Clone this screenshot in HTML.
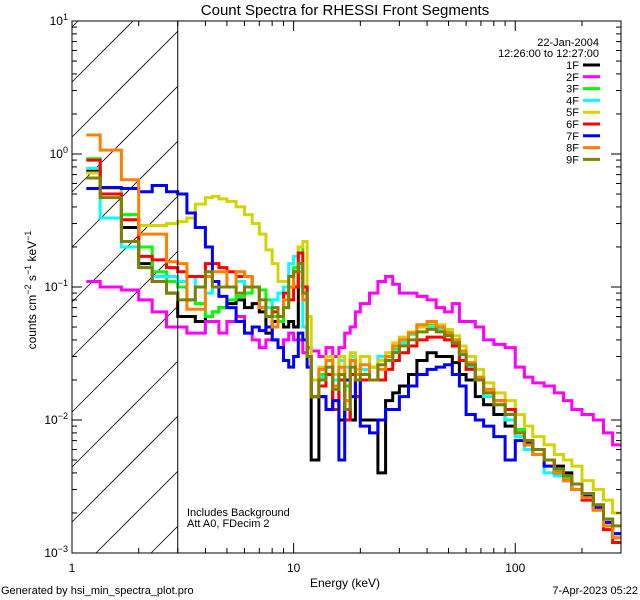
<!DOCTYPE html>
<html><head><meta charset="utf-8"><style>
html,body{margin:0;padding:0;background:#fff;width:640px;height:600px;overflow:hidden;}
svg{display:block;font-family:"Liberation Sans",sans-serif;}
</style></head><body>
<svg id="chart" width="640" height="600" viewBox="0 0 640 600" xmlns="http://www.w3.org/2000/svg">
<rect width="640" height="600" fill="#fff"/>
<text x="345" y="15" font-size="15" text-anchor="middle">Count Spectra for RHESSI Front Segments</text>
<text x="345" y="587" font-size="12" text-anchor="middle">Energy (keV)</text>
<text transform="translate(36,290) rotate(-90)" font-size="12" text-anchor="middle">counts cm<tspan dy="-5" font-size="9">−2</tspan><tspan dy="5"> s</tspan><tspan dy="-5" font-size="9">−1</tspan><tspan dy="5"> keV</tspan><tspan dy="-5" font-size="9">−1</tspan></text>
<text x="1" y="594" font-size="11">Generated by hsi_min_spectra_plot.pro</text>
<text x="638" y="594" font-size="11" text-anchor="end">7-Apr-2023 05:22</text>
<text x="599" y="46" font-size="11" text-anchor="end">22-Jan-2004</text>
<text x="599" y="57" font-size="11" text-anchor="end">12:26:00 to 12:27:00</text>
<text x="187" y="516" font-size="11">Includes Background</text>
<text x="187" y="527" font-size="11">Att A0, FDecim 2</text>
<g id="hatch"></g>
<g id="series"></g>
<g id="axes"></g>
<g id="legend"></g>
</svg>
<script>
const energyEdges=[1.16,1.34,1.67,2.0,2.3,2.67,3.0,3.3,3.6,4.0,4.3,4.6,5.0,5.5,6.0,6.5,7.0,7.5,8.0,8.5,9.0,9.5,10,10.5,11,11.5,12,13,14,15,16,17,18,19,20,22,24,26,28,30,33,36,40,44,48,52,56,60,66,72,80,90,100,110,120,135,150,165,180,200,225,250,275,300];
const seriesNames=["1F","2F","3F","4F","5F","6F","7F","8F","9F"];
const seriesColors=["#000000","#ff00ff","#00ff00","#00ffff","#d4d400","#ff0000","#0000ff","#ff8000","#808000"];
const s1F=[0.75,0.55,0.28,0.15,0.11,0.09,0.06,0.06,0.055,0.06,0.065,0.07,0.075,0.08,0.07,0.075,0.065,0.045,0.055,0.06,0.05,0.055,0.05,0.15,0.1,0.03,0.005,
0.015,0.012,0.02,0.01,0.012,0.01,0.015,0.01,0.01,0.004,0.014,0.016,0.018,0.022,0.028,0.032,0.03,0.03,0.027,0.022,0.02,0.015,0.013,0.011,0.009,0.008,0.0068,0.006,0.005,0.0045,0.004,0.0033,0.0028,0.0023,0.0018,0.0014];
const s2F=[0.11,0.1,0.095,0.08,0.065,0.05,0.05,0.045,0.045,0.055,0.055,0.045,0.055,0.06,0.045,0.04,0.035,0.04,0.04,0.035,0.04,0.045,0.04,0.04,0.032,0.035,0.033,
0.03,0.035,0.03,0.035,0.045,0.05,0.065,0.075,0.09,0.11,0.12,0.105,0.09,0.09,0.085,0.08,0.07,0.065,0.075,0.055,0.055,0.05,0.04,0.037,0.035,0.025,0.021,0.019,0.018,0.016,0.014,0.012,0.011,0.01,0.008,0.0065];
const s3F=[0.92,0.55,0.35,0.2,0.13,0.11,0.1,0.08,0.075,0.06,0.065,0.07,0.08,0.085,0.09,0.1,0.095,0.08,0.06,0.055,0.07,0.1,0.14,0.2,0.1,0.03,0.015,
0.022,0.028,0.02,0.025,0.018,0.03,0.022,0.024,0.025,0.028,0.03,0.034,0.038,0.044,0.05,0.053,0.05,0.046,0.04,0.032,0.026,0.02,0.016,0.014,0.011,0.0085,0.007,0.006,0.005,0.0042,0.0037,0.0033,0.0028,0.0022,0.0016,0.0013];
const s4F=[0.78,0.33,0.2,0.14,0.12,0.12,0.11,0.08,0.12,0.09,0.1,0.1,0.1,0.11,0.1,0.1,0.08,0.07,0.08,0.09,0.1,0.15,0.17,0.14,0.05,0.03,0.02,
0.021,0.03,0.02,0.028,0.025,0.03,0.022,0.024,0.025,0.03,0.03,0.033,0.038,0.044,0.05,0.05,0.048,0.045,0.038,0.032,0.025,0.02,0.015,0.013,0.01,0.0075,0.006,0.0055,0.004,0.0038,0.0035,0.003,0.0027,0.0022,0.0017,0.0014];
const s5F=[0.72,0.55,0.32,0.29,0.29,0.3,0.31,0.33,0.42,0.47,0.48,0.46,0.44,0.4,0.35,0.3,0.25,0.19,0.15,0.11,0.11,0.1,0.1,0.2,0.22,0.06,0.02,
0.025,0.03,0.022,0.03,0.02,0.032,0.024,0.03,0.025,0.028,0.032,0.038,0.042,0.046,0.05,0.054,0.052,0.048,0.043,0.036,0.03,0.024,0.019,0.016,0.014,0.011,0.009,0.0075,0.0065,0.0055,0.005,0.0045,0.0035,0.003,0.0025,0.002];
const s6F=[0.9,0.5,0.32,0.17,0.16,0.14,0.13,0.12,0.12,0.15,0.15,0.14,0.13,0.12,0.12,0.1,0.07,0.06,0.065,0.06,0.09,0.08,0.1,0.18,0.1,0.03,0.015,
0.018,0.022,0.012,0.02,0.01,0.022,0.015,0.02,0.02,0.02,0.024,0.028,0.032,0.036,0.04,0.042,0.042,0.04,0.036,0.028,0.024,0.02,0.016,0.014,0.012,0.008,0.007,0.006,0.005,0.004,0.0035,0.003,0.0025,0.0021,0.0015,0.0012];
const s7F=[0.55,0.56,0.55,0.52,0.58,0.52,0.5,0.36,0.28,0.2,0.11,0.085,0.07,0.055,0.045,0.05,0.047,0.05,0.04,0.035,0.028,0.025,0.03,0.045,0.04,0.025,0.015,
0.015,0.012,0.014,0.005,0.02,0.015,0.02,0.009,0.008,0.01,0.012,0.012,0.015,0.018,0.022,0.024,0.025,0.026,0.022,0.018,0.011,0.01,0.009,0.0075,0.005,0.007,0.0065,0.0055,0.0045,0.004,0.0035,0.003,0.0027,0.0022,0.0017,0.0014];
const s8F=[1.39,1.07,0.64,0.25,0.25,0.155,0.15,0.068,0.068,0.12,0.13,0.13,0.1,0.13,0.12,0.1,0.07,0.06,0.05,0.06,0.08,0.1,0.13,0.13,0.08,0.03,0.015,
0.024,0.028,0.018,0.025,0.014,0.028,0.022,0.026,0.02,0.024,0.03,0.036,0.04,0.045,0.052,0.055,0.05,0.045,0.04,0.033,0.027,0.021,0.017,0.014,0.011,0.008,0.0065,0.0055,0.005,0.004,0.0035,0.003,0.0026,0.0021,0.0016,0.0013];
const s9F=[0.66,0.47,0.22,0.14,0.11,0.09,0.08,0.08,0.1,0.13,0.1,0.1,0.1,0.09,0.1,0.1,0.08,0.06,0.07,0.06,0.07,0.12,0.13,0.15,0.09,0.03,0.015,
0.02,0.025,0.017,0.022,0.012,0.025,0.02,0.022,0.02,0.026,0.028,0.032,0.036,0.04,0.046,0.048,0.046,0.043,0.038,0.031,0.026,0.02,0.016,0.013,0.011,0.008,0.007,0.006,0.005,0.0043,0.0038,0.0033,0.0028,0.0023,0.0018,0.0016];
const xTickLabels=["1","10","100"];
const yTickLabels=["-3","-2","-1","0","1"];

const NS="http://www.w3.org/2000/svg";
const L=72,R=621,T=21,B=553;
const xMin=1,xMax=300,yMin=0.001,yMax=10;
function xs(e){return L+(Math.log10(e)-Math.log10(xMin))/(Math.log10(xMax)-Math.log10(xMin))*(R-L);}
function ys(v){return B-(Math.log10(v)-Math.log10(yMin))/(Math.log10(yMax)-Math.log10(yMin))*(B-T);}
function mk(tag,attrs,parent){const el=document.createElementNS(NS,tag);for(const k in attrs)el.setAttribute(k,attrs[k]);parent.appendChild(el);return el;}

const svg=document.getElementById('chart');
const defs=mk('defs',{},svg);
const cp=mk('clipPath',{id:'plotclip'},defs);
mk('rect',{x:L,y:T,width:R-L,height:B-T},cp);

// hatch lines computed inside the box [L, X3] x [T, B]
const hatch=document.getElementById('hatch');
const X3=xs(3);
for(let c=L+27-55*6;c<X3+B+55;c+=55){
  const xa=Math.max(L,c-B), xb=Math.min(X3,c-T);
  if(xb<=xa) continue;
  const ln=mk('line',{x1:xa.toFixed(1),y1:(c-xa).toFixed(1),x2:xb.toFixed(1),y2:(c-xb).toFixed(1),stroke:'#000','stroke-width':0.8},hatch);
  
  
}
const hb=mk('line',{x1:X3,y1:T,x2:X3,y2:B,stroke:'#000','stroke-width':1},svg);



const allSeries=[s1F,s2F,s3F,s4F,s5F,s6F,s7F,s8F,s9F];
const sg=document.getElementById('series');
sg.setAttribute('clip-path','url(#plotclip)');
allSeries.forEach((vals,si)=>{
  let d='';
  for(let i=0;i<vals.length;i++){
    const x0=xs(energyEdges[i]),x1=xs(energyEdges[i+1]),y=ys(vals[i]);
    d+=(i===0?'M':'L')+x0.toFixed(1)+','+y.toFixed(1)+'L'+x1.toFixed(1)+','+y.toFixed(1);
  }
  const p=mk('path',{d:d,fill:'none',stroke:seriesColors[si],'stroke-width':3,'stroke-linejoin':'miter'},sg);
  
  
});

const ax=document.getElementById('axes');
const frame=mk('rect',{x:L,y:T,width:R-L,height:B-T,fill:'none',stroke:'#000','stroke-width':1},ax);


for(let dec=0;dec<3;dec++){
  for(let m=1;m<10;m++){
    const e=Math.pow(10,dec)*m; if(e>xMax)break;
    const x=xs(e),len=m===1?10:5;
    mk('line',{x1:x,y1:B,x2:x,y2:B-len,stroke:'#000'},ax);
    mk('line',{x1:x,y1:T,x2:x,y2:T+len,stroke:'#000'},ax);
  }
}
xTickLabels.forEach((lab,i)=>{
  const t=mk('text',{x:xs(Math.pow(10,i)),y:B+19,'font-size':12,'text-anchor':'middle'},ax);
  t.textContent=lab;
  
  
});
for(let dec=-3;dec<1;dec++){
  for(let m=1;m<=10;m++){
    const v=Math.pow(10,dec)*m; const y=ys(v),len=(m===1||m===10)?10:5;
    mk('line',{x1:L,y1:y,x2:L+len,y2:y,stroke:'#000'},ax);
    mk('line',{x1:R,y1:y,x2:R-len,y2:y,stroke:'#000'},ax);
  }
}
yTickLabels.forEach(lab=>{
  const y=ys(Math.pow(10,+lab));
  const t=mk('text',{x:L-4,y:y+4,'font-size':12,'text-anchor':'end'},ax);
  
  
  const a=document.createElementNS(NS,'tspan');a.textContent='10';t.appendChild(a);
  const b=document.createElementNS(NS,'tspan');b.setAttribute('dy','-5');b.setAttribute('font-size','9');b.textContent=lab.replace('-','−');t.appendChild(b);
});

const lg=document.getElementById('legend');
seriesNames.forEach((n,i)=>{
  const y=65+i*11.8;
  const t=mk('text',{x:579,y:y+4,'font-size':11,'text-anchor':'end'},lg);
  t.textContent=n;
  
  
  const l=mk('line',{x1:583,y1:y,x2:600,y2:y,stroke:seriesColors[i],'stroke-width':3},lg);
  
  
});
</script>
</body></html>
